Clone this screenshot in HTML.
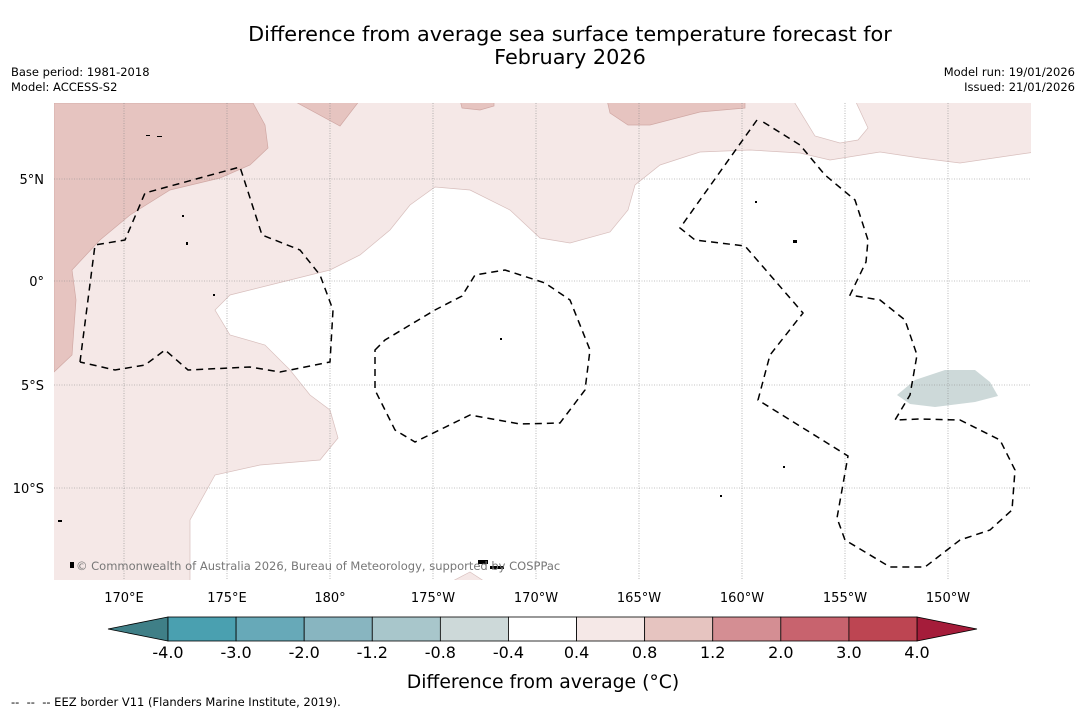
<!DOCTYPE html>
<html><head><meta charset="utf-8"><style>
html,body{margin:0;padding:0;background:#fff;width:1085px;height:713px;overflow:hidden;font-family:"DejaVu Sans",sans-serif}
</style></head><body>
<svg width="1085" height="713" xmlns="http://www.w3.org/2000/svg" font-family="DejaVu Sans, sans-serif">
<text x="570" y="41" font-size="20.8" text-anchor="middle">Difference from average sea surface temperature forecast for</text>
<text x="570" y="64" font-size="20.8" text-anchor="middle">February 2026</text>
<text x="11" y="76" font-size="11.5">Base period: 1981-2018</text>
<text x="11" y="91" font-size="11.5">Model: ACCESS-S2</text>
<text x="1075" y="76" font-size="11.5" text-anchor="end">Model run: 19/01/2026</text>
<text x="1075" y="91" font-size="11.5" text-anchor="end">Issued: 21/01/2026</text>
<defs><clipPath id="mc"><rect x="54" y="103" width="977" height="477"/></clipPath></defs>
<g clip-path="url(#mc)">
<rect x="54" y="103" width="977" height="477" fill="#f5e8e7"/>
<path fill="#fff" stroke="#d8bfbd" stroke-width="0.7" d="M190,585 L190,520 L215,475 L260,465 L320,460 L338,438 L330,410 L310,395 L290,370 L265,345 L230,335 L215,310 L230,295 L270,285 L330,270 L360,255 L390,230 L410,205 L435,187 L470,190 L510,210 L540,238 L570,243 L610,232 L628,210 L635,185 L660,165 L700,152 L750,150 L800,153 L830,160 L880,152 L920,158 L960,163 L1035,152 L1035,585 L490,585 L470,572 L445,585 Z"/>
<path fill="#fff" stroke="#d8bfbd" stroke-width="0.7" d="M793,100 L815,136 L840,143 L858,140 L868,128 L855,100 Z M68,100 L68,112 L100,130 L130,130 L130,100 Z"/>
<path fill="#e6c4c0" stroke="#d0a8a4" stroke-width="0.7" d="M54,103 L54,372 L72,355 L76,300 L72,270 L100,240 L130,215 L170,190 L220,178 L250,165 L268,148 L265,125 L253,103 Z M292,100 L340,126 L360,100 Z M460,100 L462,108 L480,110 L494,106 L494,100 Z M607,100 L610,113 L628,125 L650,125 L700,112 L745,108 L745,100 Z"/>
<path fill="#cdd9d9" d="M897,395 L915,380 L945,370 L975,370 L990,382 L998,396 L975,402 L935,407 L910,404 Z"/>
<g stroke="#888" stroke-width="0.6" stroke-dasharray="1,1.5">
<line x1="124" y1="103" x2="124" y2="580"/><line x1="227" y1="103" x2="227" y2="580"/><line x1="330" y1="103" x2="330" y2="580"/><line x1="433" y1="103" x2="433" y2="580"/><line x1="536" y1="103" x2="536" y2="580"/><line x1="639" y1="103" x2="639" y2="580"/><line x1="742" y1="103" x2="742" y2="580"/><line x1="845" y1="103" x2="845" y2="580"/><line x1="948" y1="103" x2="948" y2="580"/>
<line x1="54" y1="179" x2="1031" y2="179"/><line x1="54" y1="281" x2="1031" y2="281"/><line x1="54" y1="385" x2="1031" y2="385"/><line x1="54" y1="488" x2="1031" y2="488"/>
</g>
<g fill="none" stroke="#000" stroke-width="1.5" stroke-dasharray="7,5">
<path d="M80,362 L95,245 L125,240 L145,193 L240,167 L262,235 L300,250 L320,275 L333,310 L330,362 L280,372 L250,367 L188,370 L165,350 L145,365 L115,370 L80,362"/>
<path d="M375,350 L385,340 L435,310 L462,296 L475,275 L505,270 L545,283 L570,300 L590,350 L585,390 L560,423 L520,424 L470,415 L415,442 L395,430 L375,390 Z"/>
<path d="M757,120 L680,228 L695,240 L745,246 L803,313 L770,355 L758,400 L848,456 L837,518 L845,540 L890,567 L925,567 L960,540 L990,530 L1012,510 L1015,470 L1000,440 L960,420 L920,419 L895,420 L910,395 L917,355 L905,320 L880,300 L850,295 L866,262 L868,240 L855,200 L825,175 L800,145 L760,120"/>
</g>
<g fill="#000">
<rect x="146" y="135" width="4" height="1"/><rect x="157" y="136" width="5" height="1"/><rect x="182" y="215" width="2" height="2"/><rect x="186" y="242" width="2" height="3"/><rect x="213" y="294" width="2" height="2"/><rect x="500" y="338" width="2" height="2"/><rect x="793" y="240" width="4" height="3"/><rect x="755" y="201" width="2" height="2"/><rect x="478" y="560" width="10" height="4"/><rect x="490" y="566" width="14" height="3"/><rect x="58" y="520" width="4" height="2"/><rect x="70" y="562" width="4" height="6"/><rect x="720" y="495" width="2" height="2"/><rect x="783" y="466" width="2" height="2"/>
</g>
<text x="76" y="570" font-size="11.5" fill="#777">© Commonwealth of Australia 2026, Bureau of Meteorology, supported by COSPPac</text>
</g>
<g font-size="13">
<text x="44" y="184" text-anchor="end">5°N</text><text x="44" y="286" text-anchor="end">0°</text><text x="44" y="390" text-anchor="end">5°S</text><text x="44" y="493" text-anchor="end">10°S</text>
</g>
<g font-size="13" text-anchor="middle">
<text x="124" y="602">170°E</text><text x="227" y="602">175°E</text><text x="330" y="602">180°</text><text x="433" y="602">175°W</text><text x="536" y="602">170°W</text><text x="639" y="602">165°W</text><text x="742" y="602">160°W</text><text x="845" y="602">155°W</text><text x="948" y="602">150°W</text>
</g>
<g id="cbar"></g>
<text x="543" y="688" font-size="18.8" text-anchor="middle">Difference from average (°C)</text>
<text x="11" y="706" font-size="11.5">-- &#160;-- &#160;-- EEZ border V11 (Flanders Marine Institute, 2019).</text>
</svg>
<script>
const binColors=["#4aa0b0","#67a9b8","#88b5c0","#a8c6cb","#cdd9d9","#ffffff","#f5e8e7","#e6c4c0","#d48e93","#c8636e","#bd4552"];
const tickLabels=["-4.0","-3.0","-2.0","-1.2","-0.8","-0.4","0.4","0.8","1.2","2.0","3.0","4.0"];
const lowColor="#3f7f87", highColor="#a51c3a";
const g=document.getElementById('cbar');
const ns="http://www.w3.org/2000/svg";
const x0=168,x1=917,y0=617,h=24,w=(x1-x0)/binColors.length;
function mk(t,a){const e=document.createElementNS(ns,t);for(const k in a)e.setAttribute(k,a[k]);g.appendChild(e);return e;}
let lt=mk('polygon',{points:`108,${y0+h/2} ${x0},${y0} ${x0},${y0+h}`,fill:lowColor,stroke:'#000','stroke-width':0.8});


let ht=mk('polygon',{points:`977,${y0+h/2} ${x1},${y0} ${x1},${y0+h}`,fill:highColor,stroke:'#000','stroke-width':0.8});


binColors.forEach((c,i)=>{
 const r=mk('rect',{x:x0+i*w,y:y0,width:w,height:h,fill:c,stroke:'#000','stroke-width':0.8});
 
 
});
tickLabels.forEach((t,i)=>{
 const e=mk('text',{x:x0+i*w,y:658,'font-size':16,'text-anchor':'middle'});
 e.textContent=t;
 
 
});
</script>
</body></html>
